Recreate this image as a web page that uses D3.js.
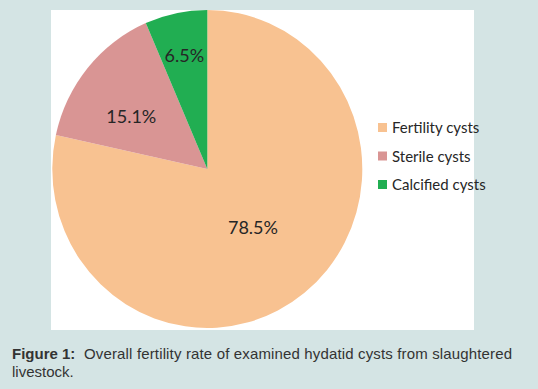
<!DOCTYPE html>
<html>
<head>
<meta charset="utf-8">
<script src="https://cdn.jsdelivr.net/npm/d3@7"></script>
<style>
html,body{margin:0;padding:0;background:#d4e4e4;}
svg{display:block;}
</style>
</head>
<body>
<svg id="chart" width="538" height="389"></svg>
<script>
const categories = ["Fertility cysts", "Sterile cysts", "Calcified cysts"];
const values = [78.5, 15.1, 6.5];
const labels = ["78.5%", "15.1%", "6.5%"];
const colors = ["#f8c291", "#d99594", "#21ae52"];

const svg = d3.select("#chart");
svg.append("rect").attr("x", 0).attr("y", 0).attr("width", 538).attr("height", 389).attr("fill", "#d4e4e4");
svg.append("rect").attr("x", 51).attr("y", 10).attr("width", 423).attr("height", 320).attr("fill", "#ffffff");

const cx = 207.3, cy = 169, rx = 155, ry = 159;
const pie = d3.pie().sort(null).value(d => d)(values);
const arc = d3.arc().innerRadius(0).outerRadius(rx);
const g = svg.append("g").attr("transform", `translate(${cx},${cy})`);
g.append("g").attr("transform", `scale(1,${ry / rx})`)
  .selectAll("path").data(pie).enter().append("path")
  .attr("d", arc).attr("fill", (d, i) => colors[i]);

// label placement (layout constants, Excel "best fit" style)
const labelRadius = [0.47, 0.59, 0.73];
const labelShift = [0, -0.1, 0]; // radians
g.selectAll("text.lbl").data(pie).enter().append("text")
  .attr("class", "lbl")
  .attr("transform", (d, i) => {
    const rr = rx * labelRadius[i];
    const a = (d.startAngle + d.endAngle) / 2 + labelShift[i];
    const x = Math.sin(a) * rr, y = -Math.cos(a) * rr * ry / rx;
    return `translate(${x},${y})`;
  })
  .attr("text-anchor", "middle").attr("dy", "0.35em")
  .attr("font-family", "Lato, 'Open Sans', sans-serif").attr("font-size", 18)
  .attr("fill", "#262626")
  .text((d, i) => labels[i]);

const leg = svg.append("g").attr("transform", "translate(378,128)");
categories.forEach((c, i) => {
  const row = leg.append("g").attr("transform", `translate(0,${i * 28.5})`);
  row.append("rect").attr("x", 0).attr("y", -5).attr("width", 9).attr("height", 9).attr("fill", colors[i]);
  row.append("text").attr("x", 14).attr("y", 0).attr("dy", "0.35em")
    .attr("font-family", "Lato, 'Open Sans', sans-serif").attr("font-size", 15)
    .attr("fill", "#262626").text(c);
});

const font = "'Liberation Sans', Arial, sans-serif";
svg.append("text").attr("x", 12).attr("y", 359).attr("font-family", font)
  .attr("font-size", 15).attr("font-weight", "bold").attr("fill", "#333").text("Figure 1:");
svg.append("text").attr("x", 84).attr("y", 359).attr("font-family", font)
  .attr("font-size", 15).attr("fill", "#333")
  .attr("textLength", 428).attr("lengthAdjust", "spacing")
  .text("Overall fertility rate of examined hydatid cysts from slaughtered");
svg.append("text").attr("x", 12).attr("y", 377).attr("font-family", font)
  .attr("font-size", 15).attr("fill", "#333").text("livestock.");
</script>
</body>
</html>
